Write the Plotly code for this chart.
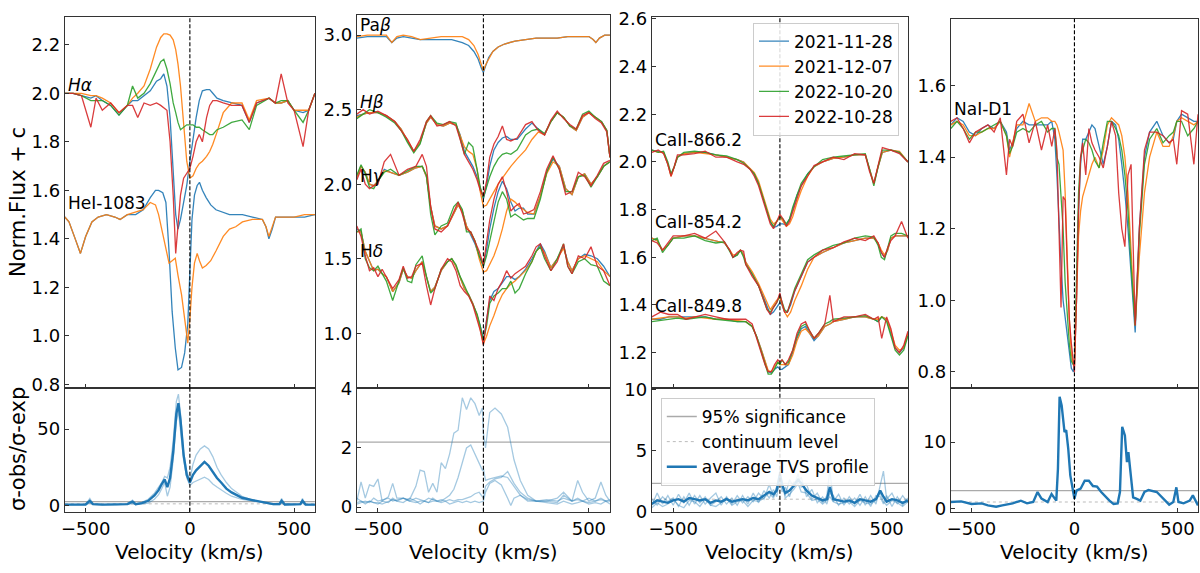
import plotly.graph_objects as go

# ---------------- data ----------------
DATES = ["2021-11-28", "2021-12-07", "2022-10-20", "2022-10-28"]
COLORS = ["#1f77b4", "#ff7f0e", "#2ca02c", "#d62728"]
X_TICKS = [-500, 0, 500]
X_LABELS = ["\u2212500", "0", "500"]

# H alpha
HA_V = [-600, -560, -520, -475, -450, -420, -380, -340, -300, -275, -250, -220, -190, -160, -140,
        -125, -110, -95, -80, -68, -57, -45, -30, -15, 0, 15, 30, 45, 60, 80, 95, 110, 130, 160, 200,
        250, 285, 320, 380, 410, 438, 470, 500, 543, 570, 600]
HA_BLUE = [2.0, 2.0, 1.99, 1.98, 1.99, 1.97, 1.95, 1.91, 1.95, 1.97, 1.97, 1.99, 2.01, 2.05, 2.06,
           2.08, 2.03, 1.9, 1.65, 1.5, 1.44, 1.48, 1.55, 1.62, 1.72, 1.82, 1.9, 1.97, 2.01, 2.015,
           2.015, 2.0, 1.98, 1.97, 1.96, 1.95, 1.88, 1.96, 1.98, 1.96, 1.96, 1.97, 1.93, 1.92, 1.93, 2.0]
HA_ORANGE = [2.0, 2.0, 2.0, 1.99, 1.99, 1.98, 1.96, 1.92, 1.95, 1.98, 2.0, 2.03, 2.1, 2.19, 2.23,
             2.245, 2.245, 2.24, 2.22, 2.18, 2.12, 2.03, 1.88, 1.72, 1.65, 1.66, 1.69, 1.71, 1.72, 1.74,
             1.76, 1.79, 1.84, 1.92, 1.96, 1.96, 1.89, 1.97, 1.98, 1.96, 1.96, 1.97, 1.93, 1.93, 1.93, 2.0]
HA_GREEN = [2.0, 2.0, 1.99, 1.97, 1.97, 1.97, 1.95, 1.91, 1.95, 2.03, 1.98, 2.0, 2.04, 2.09, 2.13,
            2.14, 2.1, 2.04, 1.96, 1.92, 1.88, 1.85, 1.86, 1.87, 1.87, 1.87, 1.86, 1.86, 1.85, 1.84,
            1.83, 1.83, 1.85, 1.86, 1.88, 1.89, 1.85, 1.95, 1.98, 1.96, 1.97, 1.97, 1.93, 1.88, 1.93, 2.0]
HA_RED = [2.0, 2.0, 1.99, 1.86, 1.98, 1.93, 1.96, 1.92, 1.95, 1.95, 1.9, 1.96, 1.95, 1.96, 1.95,
          1.94, 1.93, 1.8, 1.58, 1.34, 1.45, 1.58, 1.65, 1.67, 1.69, 1.74, 1.8, 1.83, 1.8, 1.9,
          1.95, 1.97, 1.97, 1.96, 1.95, 1.95, 1.88, 1.96, 1.98, 1.96, 2.08, 1.96, 1.93, 1.78, 1.93, 2.0]

# HeI 1083
HE_V = [-600, -580, -550, -525, -500, -470, -440, -400, -360, -335, -300, -260, -224, -190, -165,
        -150, -130, -115, -100, -85, -70, -57, -40, -25, -10, 0, 10, 22, 35, 46, 60, 78, 100, 125, 160,
        190, 220, 252, 300, 348, 365, 379, 395, 411, 450, 500, 550, 600]
HE_BLUE = [1.49, 1.47, 1.40, 1.34, 1.41, 1.47, 1.49, 1.5, 1.49, 1.48, 1.5, 1.5, 1.52, 1.57, 1.6,
           1.6, 1.59, 1.55, 1.35, 1.1, 0.95, 0.86, 0.87, 0.93, 1.05, 1.28, 1.48, 1.58, 1.62, 1.633,
           1.6, 1.57, 1.54, 1.52, 1.51, 1.5, 1.5, 1.5, 1.49, 1.48, 1.45, 1.40, 1.44, 1.49, 1.49,
           1.49, 1.49, 1.5]
HE_ORANGE = [1.49, 1.47, 1.40, 1.34, 1.41, 1.47, 1.49, 1.5, 1.49, 1.48, 1.5, 1.51, 1.52, 1.55, 1.54,
             1.5, 1.42, 1.35, 1.30, 1.31, 1.32, 1.25, 1.17, 1.07, 0.97, 1.07, 1.2, 1.3, 1.34, 1.31,
             1.28, 1.29, 1.31, 1.35, 1.41, 1.44, 1.45, 1.47, 1.48, 1.48, 1.45, 1.41, 1.45, 1.49, 1.49,
             1.49, 1.5, 1.5]

# Pa beta
PB_V = [-600, -550, -500, -460, -434, -410, -380, -340, -300, -250, -200, -150, -100, -70, -45,
        -25, -10, 0, 10, 25, 45, 70, 100, 150, 200, 250, 300, 350, 400, 450, 500, 520, 533, 550, 575, 600]
PB_BLUE = [2.98, 2.99, 2.99, 2.99, 2.95, 2.98, 2.99, 2.98, 2.97, 2.97, 2.97, 2.97, 2.95, 2.93, 2.89,
           2.84, 2.78, 2.75, 2.79, 2.85, 2.89, 2.92, 2.94, 2.96, 2.97, 2.98, 2.98, 2.98, 2.99, 2.99,
           2.99, 2.97, 2.95, 2.98, 3.0, 3.0]
PB_ORANGE = [2.99, 3.0, 3.0, 3.0, 2.95, 2.99, 3.0, 2.99, 2.97, 2.98, 2.99, 2.99, 2.99, 2.97, 2.93,
             2.87, 2.8, 2.76, 2.8, 2.84, 2.89, 2.92, 2.94, 2.96, 2.97, 2.98, 2.98, 2.98, 2.99, 2.99,
             2.99, 2.97, 2.95, 2.98, 3.0, 3.0]

# H beta
HB_V = [-600, -570, -540, -500, -460, -420, -390, -360, -330, -300, -270, -250, -220, -190, -160,
        -130, -110, -90, -70, -50, -30, -15, 0, 15, 30, 50, 70, 90, 110, 130, 160, 200, 230, 260, 290,
        320, 350, 380, 410, 440, 470, 500, 530, 560, 585, 600]
HB_BLUE = [2.46, 2.47, 2.48, 2.48, 2.46, 2.42, 2.37, 2.29, 2.22, 2.28, 2.41, 2.45, 2.4, 2.39, 2.41,
           2.4, 2.33, 2.22, 2.17, 2.12, 2.05, 1.97, 1.9, 1.99, 2.12, 2.23, 2.28, 2.31, 2.32, 2.3,
           2.3, 2.37, 2.41, 2.37, 2.33, 2.42, 2.48, 2.45, 2.39, 2.36, 2.45, 2.48, 2.45, 2.42, 2.36, 2.18]
HB_ORANGE = [2.45, 2.47, 2.48, 2.48, 2.46, 2.42, 2.37, 2.29, 2.22, 2.28, 2.41, 2.45, 2.4, 2.39, 2.41,
             2.4, 2.33, 2.25, 2.22, 2.2, 2.1, 1.95, 1.85, 1.86, 1.9, 1.95, 2.0, 2.04, 2.08, 2.12,
             2.17, 2.23, 2.3, 2.35, 2.33, 2.42, 2.48, 2.45, 2.39, 2.36, 2.45, 2.48, 2.45, 2.42, 2.36, 2.18]
HB_GREEN = [2.44, 2.47, 2.5, 2.48, 2.45, 2.41, 2.36, 2.28, 2.21, 2.27, 2.42, 2.46, 2.41, 2.4, 2.42,
            2.41, 2.3, 2.2, 2.28, 2.25, 2.1, 1.98, 1.91, 1.98, 2.05, 2.12, 2.17, 2.2, 2.21, 2.2,
            2.23, 2.33, 2.36, 2.37, 2.34, 2.42, 2.48, 2.45, 2.39, 2.37, 2.47, 2.49, 2.45, 2.42, 2.36, 2.18]
HB_RED = [2.47, 2.5, 2.47, 2.49, 2.46, 2.42, 2.36, 2.3, 2.22, 2.3, 2.42, 2.46, 2.39, 2.4, 2.42,
          2.39, 2.3, 2.2, 2.15, 2.1, 2.03, 1.96, 1.92, 2.02, 2.18, 2.27, 2.32, 2.39, 2.3, 2.29,
          2.31, 2.4, 2.42, 2.36, 2.33, 2.43, 2.49, 2.44, 2.4, 2.37, 2.46, 2.48, 2.44, 2.41, 2.35, 2.18]

# H gamma
HG_V = [-600, -580, -560, -540, -520, -500, -470, -440, -400, -360, -320, -290, -270, -250, -230,
        -200, -170, -140, -120, -100, -80, -60, -40, -20, 0, 15, 30, 50, 70, 90, 110, 130, 150, 170,
        190, 210, 240, 270, 300, 330, 360, 390, 420, 450, 480, 510, 540, 570, 600]
HG_BLUE = [2.05, 2.12, 2.08, 2.0, 1.99, 2.02, 2.1, 2.08, 2.06, 2.08, 2.11, 2.12, 2.05, 1.85, 1.72,
           1.7, 1.72, 1.8, 1.86, 1.82, 1.72, 1.66, 1.6, 1.52, 1.45, 1.56, 1.7, 1.84, 1.95, 2.02,
           1.97, 1.88, 1.82, 1.84, 1.84, 1.8, 1.8, 1.92, 2.08, 2.17, 2.12, 1.97, 1.93, 2.05, 2.07,
           2.0, 2.05, 2.12, 2.15]
HG_ORANGE = [2.05, 2.12, 2.08, 2.0, 1.99, 2.02, 2.09, 2.08, 2.06, 2.08, 2.11, 2.12, 2.05, 1.85, 1.72,
             1.7, 1.72, 1.8, 1.86, 1.82, 1.72, 1.67, 1.62, 1.5, 1.41, 1.42, 1.46, 1.52, 1.6, 1.7,
             1.82, 1.9, 1.88, 1.85, 1.83, 1.81, 1.8, 1.92, 2.07, 2.15, 2.12, 1.97, 1.93, 2.05, 2.07,
             2.0, 2.05, 2.12, 2.15]
HG_GREEN = [2.06, 2.13, 2.07, 1.98, 1.97, 2.02, 2.08, 2.1, 2.06, 2.09, 2.12, 2.12, 2.06, 1.8, 1.66,
            1.72, 1.74, 1.85, 1.88, 1.83, 1.68, 1.68, 1.62, 1.52, 1.45, 1.52, 1.62, 1.75, 1.88, 1.95,
            1.9, 1.78, 1.8, 1.78, 1.76, 1.77, 1.77, 1.9, 2.08, 2.18, 2.1, 1.95, 1.95, 2.05, 2.06,
            1.98, 2.05, 2.12, 2.15]
HG_RED = [2.03, 2.1, 2.0, 1.97, 1.99, 2.0, 2.15, 2.2, 2.06, 2.1, 2.12, 2.2, 2.12, 1.85, 1.7,
          1.68, 1.72, 1.82, 1.88, 1.8, 1.7, 1.68, 1.62, 1.55, 1.46, 1.6, 1.76, 1.9, 2.0, 2.05,
          1.95, 1.82, 1.85, 1.87, 1.8, 1.81, 1.83, 1.95, 2.1, 2.19, 2.1, 1.93, 1.95, 2.08, 2.05,
          1.99, 2.06, 2.14, 2.16]

# H delta
HD_V = [-600, -580, -560, -540, -520, -500, -480, -460, -430, -400, -380, -360, -340, -320, -290,
        -270, -250, -230, -200, -170, -150, -130, -110, -90, -70, -50, -30, -15, 0, 15, 30, 50, 70,
        90, 110, 130, 150, 170, 200, 230, 250, 270, 290, 320, 350, 380, 400, 420, 450, 480, 510,
        540, 570, 600]
HD_BLUE = [1.70, 1.68, 1.55, 1.48, 1.42, 1.43, 1.40, 1.38, 1.28, 1.34, 1.43, 1.38, 1.37, 1.42, 1.48,
           1.38, 1.28, 1.31, 1.42, 1.48, 1.5, 1.45, 1.37, 1.3, 1.26, 1.2, 1.12, 1.05, 0.96, 1.1,
           1.22, 1.28, 1.3, 1.34, 1.38, 1.38, 1.36, 1.38, 1.43, 1.5, 1.55, 1.6, 1.55, 1.44, 1.5,
           1.58, 1.48, 1.42, 1.5, 1.53, 1.52, 1.5, 1.45, 1.38]
HD_ORANGE = [1.68, 1.68, 1.55, 1.48, 1.42, 1.43, 1.40, 1.38, 1.28, 1.34, 1.43, 1.38, 1.37, 1.42, 1.48,
             1.38, 1.28, 1.31, 1.42, 1.48, 1.5, 1.45, 1.37, 1.3, 1.26, 1.2, 1.12, 1.03, 0.93, 0.98,
             1.05, 1.12, 1.2, 1.26, 1.3, 1.33, 1.35, 1.38, 1.42, 1.48, 1.55, 1.58, 1.54, 1.44, 1.5,
             1.57, 1.48, 1.42, 1.5, 1.52, 1.5, 1.48, 1.42, 1.38]
HD_GREEN = [1.68, 1.7, 1.5, 1.44, 1.42, 1.45, 1.4, 1.35, 1.22, 1.36, 1.44, 1.35, 1.34, 1.46, 1.52,
            1.38, 1.27, 1.3, 1.43, 1.48, 1.5, 1.46, 1.38, 1.32, 1.26, 1.2, 1.13, 1.05, 0.95, 1.05,
            1.2, 1.25, 1.27, 1.3, 1.3, 1.35, 1.27, 1.3, 1.4, 1.48, 1.55, 1.58, 1.5, 1.42, 1.5,
            1.6, 1.45, 1.4, 1.48, 1.5, 1.46, 1.45, 1.35, 1.32]
HD_RED = [1.72, 1.65, 1.52, 1.42, 1.44, 1.38, 1.43, 1.38, 1.3, 1.36, 1.45, 1.37, 1.38, 1.45, 1.47,
          1.32, 1.19, 1.3, 1.43, 1.5, 1.48, 1.42, 1.32, 1.28, 1.25, 1.19, 1.1, 1.02, 0.92, 1.1,
          1.25, 1.22, 1.3, 1.35, 1.42, 1.37, 1.4, 1.42, 1.45, 1.52, 1.58, 1.6, 1.52, 1.42, 1.48,
          1.6, 1.45, 1.4, 1.52, 1.5, 1.58, 1.45, 1.42, 1.32]

# CaII 866.2
CA1_V = [-600, -570, -545, -525, -510, -495, -480, -450, -400, -350, -300, -250, -200, -170, -140,
         -120, -100, -80, -60, -45, -30, -15, 0, 15, 30, 45, 60, 80, 100, 130, 160, 200, 250, 300,
         350, 400, 420, 440, 460, 480, 520, 560, 600]
CA1_BLUE = [2.05, 2.045, 2.04, 1.99, 1.945, 1.98, 2.02, 2.035, 2.04, 2.04, 2.03, 2.02, 2.01, 2.0, 1.97,
            1.95, 1.91, 1.85, 1.79, 1.75, 1.725, 1.73, 1.74, 1.74, 1.735, 1.76, 1.8, 1.86, 1.9, 1.95,
            1.98, 2.0, 2.015, 2.02, 2.03, 2.03, 1.97, 1.91, 1.98, 2.04, 2.05, 2.04, 2.0]
CA1_ORANGE = [2.05, 2.04, 2.04, 1.99, 1.94, 1.98, 2.02, 2.035, 2.04, 2.035, 2.03, 2.02, 2.01, 2.0, 1.975,
              1.955, 1.92, 1.86, 1.8, 1.76, 1.74, 1.75, 1.77, 1.75, 1.73, 1.74, 1.77, 1.83, 1.88, 1.94,
              1.98, 2.0, 2.015, 2.02, 2.03, 2.03, 1.97, 1.91, 1.98, 2.04, 2.05, 2.045, 2.0]
CA1_GREEN = [2.05, 2.04, 2.045, 2.0, 1.95, 1.98, 2.02, 2.04, 2.045, 2.04, 2.03, 2.025, 2.01, 1.995, 1.97,
             1.95, 1.91, 1.85, 1.79, 1.75, 1.73, 1.75, 1.77, 1.76, 1.74, 1.76, 1.81, 1.86, 1.91, 1.95,
             1.98, 2.01, 2.02, 2.025, 2.03, 2.035, 1.97, 1.9, 1.98, 2.05, 2.05, 2.04, 2.0]
CA1_RED = [2.04, 2.05, 2.035, 1.99, 1.94, 1.98, 2.03, 2.03, 2.035, 2.045, 2.02, 2.02, 2.0, 1.99, 1.97,
           1.94, 1.9, 1.84, 1.78, 1.74, 1.72, 1.75, 1.78, 1.76, 1.73, 1.75, 1.79, 1.85, 1.9, 1.94,
           1.985, 2.0, 2.02, 2.01, 2.035, 2.03, 1.96, 1.91, 1.99, 2.06, 2.05, 2.035, 2.0]

# CaII 854.2
CA2_V = [-600, -575, -550, -525, -500, -450, -400, -350, -300, -260, -235, -220, -200, -185, -170,
         -160, -130, -100, -80, -60, -45, -30, -15, 0, 10, 22, 35, 50, 70, 100, 130, 160, 200, 250,
         300, 350, 400, 440, 460, 475, 490, 505, 520, 540, 570, 600]
CA2_BLUE = [1.68, 1.67, 1.63, 1.65, 1.68, 1.69, 1.69, 1.68, 1.67, 1.66, 1.63, 1.60, 1.61, 1.63, 1.61,
            1.58, 1.53, 1.48, 1.44, 1.39, 1.36, 1.37, 1.39, 1.41, 1.40, 1.37, 1.37, 1.4, 1.46, 1.52,
            1.58, 1.6, 1.62, 1.64, 1.66, 1.67, 1.68, 1.68, 1.66, 1.62, 1.6, 1.63, 1.68, 1.69, 1.69, 1.69]
CA2_ORANGE = [1.68, 1.67, 1.63, 1.65, 1.68, 1.69, 1.69, 1.68, 1.67, 1.66, 1.63, 1.61, 1.61, 1.63, 1.61,
              1.58, 1.54, 1.49, 1.45, 1.41, 1.38, 1.40, 1.42, 1.43, 1.40, 1.37, 1.35, 1.37, 1.42, 1.48,
              1.55, 1.6, 1.62, 1.64, 1.66, 1.67, 1.68, 1.68, 1.66, 1.63, 1.61, 1.63, 1.68, 1.69, 1.69, 1.69]
CA2_GREEN = [1.67, 1.68, 1.62, 1.65, 1.68, 1.68, 1.69, 1.67, 1.66, 1.665, 1.62, 1.60, 1.61, 1.63, 1.60,
             1.57, 1.53, 1.48, 1.43, 1.38, 1.37, 1.39, 1.41, 1.44, 1.41, 1.38, 1.37, 1.41, 1.47, 1.53,
             1.59, 1.61, 1.63, 1.65, 1.66, 1.68, 1.69, 1.685, 1.65, 1.6, 1.59, 1.64, 1.69, 1.7, 1.7, 1.69]
CA2_RED = [1.67, 1.66, 1.63, 1.66, 1.69, 1.69, 1.7, 1.68, 1.71, 1.665, 1.63, 1.60, 1.62, 1.63, 1.625,
           1.57, 1.52, 1.48, 1.43, 1.38, 1.36, 1.39, 1.41, 1.45, 1.41, 1.37, 1.37, 1.41, 1.46, 1.52,
           1.58, 1.6, 1.63, 1.64, 1.665, 1.68, 1.67, 1.69, 1.66, 1.62, 1.6, 1.64, 1.67, 1.69, 1.75, 1.68]

# CaII 849.8
CA3_V = [-600, -560, -520, -480, -440, -400, -350, -300, -250, -200, -160, -130, -110, -90, -70,
         -55, -40, -25, -10, 0, 10, 25, 40, 60, 80, 100, 120, 140, 160, 180, 210, 234, 250, 300, 350,
         400, 440, 460, 477, 500, 520, 540, 560, 580, 600]
CA3_BLUE = [1.34, 1.34, 1.35, 1.35, 1.35, 1.35, 1.35, 1.34, 1.34, 1.33, 1.33, 1.31, 1.27, 1.22, 1.16,
            1.12, 1.115, 1.13, 1.14, 1.13, 1.13, 1.14, 1.15, 1.2, 1.26, 1.3, 1.31, 1.28, 1.25, 1.27,
            1.31, 1.32, 1.33, 1.34, 1.35, 1.35, 1.34, 1.33, 1.35, 1.34, 1.28, 1.22, 1.2, 1.22, 1.28]
CA3_ORANGE = [1.34, 1.345, 1.35, 1.35, 1.345, 1.35, 1.345, 1.34, 1.34, 1.335, 1.33, 1.31, 1.27, 1.22, 1.16,
              1.125, 1.12, 1.14, 1.16, 1.15, 1.15, 1.15, 1.15, 1.19, 1.25, 1.29, 1.3, 1.28, 1.26, 1.27,
              1.31, 1.32, 1.33, 1.34, 1.35, 1.35, 1.34, 1.34, 1.35, 1.34, 1.29, 1.23, 1.21, 1.22, 1.28]
CA3_GREEN = [1.33, 1.335, 1.34, 1.345, 1.34, 1.345, 1.35, 1.34, 1.335, 1.33, 1.33, 1.31, 1.27, 1.21, 1.15,
             1.11, 1.11, 1.13, 1.16, 1.15, 1.17, 1.15, 1.16, 1.21, 1.27, 1.31, 1.32, 1.29, 1.26, 1.28,
             1.32, 1.33, 1.34, 1.345, 1.35, 1.355, 1.34, 1.33, 1.35, 1.33, 1.27, 1.21, 1.19, 1.21, 1.27]
CA3_RED = [1.35, 1.37, 1.36, 1.36, 1.34, 1.35, 1.36, 1.35, 1.34, 1.34, 1.34, 1.32, 1.26, 1.21, 1.15,
           1.12, 1.12, 1.15, 1.17, 1.16, 1.17, 1.15, 1.17, 1.21, 1.28, 1.32, 1.33, 1.29, 1.26, 1.28,
           1.32, 1.44, 1.33, 1.35, 1.35, 1.36, 1.34, 1.35, 1.26, 1.35, 1.3, 1.22, 1.2, 1.23, 1.29]

# NaI D1
NA_V = [-600, -570, -540, -510, -480, -450, -420, -390, -360, -330, -315, -300, -280, -250, -220,
        -190, -160, -130, -110, -95, -85, -75, -65, -55, -45, -35, -25, -15, -5, 0, 10, 20, 30, 40,
        55, 70, 85, 100, 120, 140, 160, 180, 200, 215, 230, 245, 260, 275, 295, 315, 340, 365, 400,
        430, 460, 480, 497, 520, 550, 580, 600]
NA_BLUE = [1.49, 1.51, 1.5, 1.47, 1.46, 1.48, 1.49, 1.48, 1.5, 1.47, 1.42, 1.44, 1.48, 1.5, 1.49,
           1.49, 1.49, 1.49, 1.5, 1.45, 1.35, 1.2, 1.1, 1.0, 0.95, 0.9, 0.85, 0.81, 0.8, 0.82,
           1.0, 1.25, 1.38, 1.45, 1.45, 1.47, 1.49, 1.48, 1.43, 1.38, 1.43, 1.5, 1.49, 1.45, 1.38,
           1.3, 1.2, 1.08, 0.91, 1.2, 1.4, 1.47, 1.5, 1.46, 1.44, 1.45, 1.5, 1.52, 1.51, 1.5, 1.5]
NA_ORANGE = [1.49, 1.5, 1.49, 1.46, 1.46, 1.47, 1.48, 1.48, 1.5, 1.46, 1.4, 1.44, 1.49, 1.49, 1.55,
             1.5, 1.51, 1.51, 1.5, 1.5, 1.49, 1.47, 1.44, 1.42, 1.3, 1.1, 0.95, 0.85, 0.82, 0.82,
             1.0, 1.18, 1.25, 1.29, 1.32, 1.35, 1.38, 1.4, 1.37, 1.42, 1.49, 1.51, 1.5, 1.49, 1.46,
             1.4, 1.3, 1.15, 0.93, 1.12, 1.3, 1.4, 1.47, 1.43, 1.43, 1.46, 1.5, 1.51, 1.5, 1.49, 1.5]
NA_GREEN = [1.48, 1.5, 1.48, 1.45, 1.47, 1.47, 1.48, 1.49, 1.5, 1.46, 1.41, 1.43, 1.47, 1.48, 1.47,
            1.49, 1.5, 1.47, 1.48, 1.48, 1.4, 1.38, 1.3, 1.2, 1.05, 0.95, 0.88, 0.83, 0.82, 0.83,
            1.05, 1.3, 1.4, 1.42, 1.45, 1.44, 1.42, 1.39, 1.37, 1.44, 1.5, 1.5, 1.48, 1.46, 1.42,
            1.35, 1.25, 1.1, 0.93, 1.18, 1.38, 1.45, 1.48, 1.44, 1.46, 1.47, 1.5, 1.5, 1.46, 1.48, 1.5]
NA_RED = [1.5, 1.51, 1.48, 1.44, 1.47, 1.48, 1.49, 1.47, 1.51, 1.35, 1.45, 1.43, 1.5, 1.52, 1.44,
          1.5, 1.42, 1.49, 1.43, 1.48, 1.42, 1.2, 0.98, 1.29, 1.28, 1.1, 0.95, 0.88, 0.82, 0.8,
          1.0, 1.25, 1.4, 1.44, 1.35, 1.48, 1.44, 1.42, 1.4, 1.37, 1.43, 1.5, 1.46, 1.3, 1.2,
          1.15, 1.35, 1.38, 0.93, 1.2, 1.42, 1.47, 1.47, 1.46, 1.44, 1.45, 1.38, 1.53, 1.52, 1.38, 1.52]

# TVS, column 1 (Halpha, HeI and average)
TV1_V = [-600, -540, -500, -480, -465, -420, -350, -300, -275, -260, -230, -200, -170, -150, -135,
         -121, -108, -95, -80, -65, -55, -45, -30, -15, 0, 15, 30, 50, 70, 90, 110, 130, 150, 175,
         200, 250, 300, 350, 400, 430, 440, 455, 500, 530, 540, 555, 600]
TV1_AVG = [0.5, 0.6, 0.6, 3.0, 0.8, 0.5, 0.4, 0.8, 2.5, 0.8, 1.5, 3.0, 6.5, 10, 14,
           17, 12, 18, 35, 60, 67, 56, 33, 20, 15, 20, 23, 26, 28.5, 26, 22, 18, 15, 11,
           8.5, 5, 3.5, 2, 0.8, 0.8, 3, 0.6, 0.5, 0.8, 3, 0.5, 0.5]
TV1_A = [0.6, 0.7, 0.7, 4.5, 1.0, 0.6, 0.5, 1.0, 3.5, 1.0, 2.0, 4.0, 8, 12, 15,
         19, 18, 25, 42, 68, 73, 60, 35, 22, 17, 27, 33, 37, 39, 37, 32, 25, 20, 15,
         11, 6, 3.5, 2, 1, 1.5, 4.5, 1, 0.5, 1, 4.5, 0.6, 0.5]
TV1_B = [0.4, 0.5, 0.5, 1.5, 0.6, 0.4, 0.3, 0.6, 1.2, 0.6, 1.0, 1.5, 4, 7, 11,
         15, 6, 12, 30, 55, 62, 50, 30, 18, 13, 15, 16, 17, 18.5, 17, 14, 12, 10, 8,
         6, 4, 3, 1.5, 0.5, 0.5, 1.5, 0.3, 0.4, 0.5, 1.5, 0.4, 0.4]

# TVS, column 2 (four Balmer / Paschen lines)
TV2_V = [-600, -580, -560, -540, -520, -500, -480, -450, -430, -410, -380, -350, -320, -300, -280,
         -260, -240, -220, -200, -180, -160, -140, -120, -100, -80, -60, -40, -20, -5, 0, 10, 30,
         55, 85, 115, 130, 145, 175, 210, 250, 300, 350, 380, 420, 447, 470, 500, 530, 557, 580, 600]
TV2_A = [0.2, 0.85, 0.3, 0.75, 0.7, 0.95, 0.2, 0.35, 0.8, 0.3, 0.3, 0.25, 0.7, 1.25, 1.2,
         0.5, 0.8, 0.5, 1.5, 1.3, 1.8, 2.5, 2.6, 3.7, 3.3, 3.7, 3.5, 3.1, 3.35, 2.5, 2.0, 3.2,
         3.35, 3.15, 2.7, 2.2, 1.6, 0.9, 0.4, 0.2, 0.2, 0.3, 0.5, 0.2, 0.9, 0.5, 0.2, 0.3, 0.85, 0.4, 0.2]
TV2_B = [0.15, 0.2, 0.15, 0.2, 0.15, 0.15, 0.1, 0.2, 0.25, 0.2, 0.3, 0.2, 0.15, 0.2, 0.2,
         0.15, 0.2, 0.2, 0.2, 0.3, 0.4, 0.6, 1.0, 1.5, 2.0, 2.1, 1.8, 1.5, 1.25, 1.3, 0.9, 0.95,
         1.0, 1.05, 1.0, 0.85, 0.7, 0.4, 0.25, 0.2, 0.2, 0.15, 0.4, 0.2, 0.3, 0.2, 0.15, 0.2, 0.3, 0.2, 0.25]
TV2_C = [0.1, 0.15, 0.2, 0.15, 0.3, 0.2, 0.25, 0.3, 0.2, 0.25, 0.3, 0.2, 0.3, 0.25, 0.2,
         0.3, 0.25, 0.2, 0.25, 0.2, 0.25, 0.2, 0.25, 0.25, 0.3, 0.35, 0.45, 0.5, 0.35, 0.3, 0.7, 0.85,
         0.95, 1.0, 1.2, 1.0, 0.8, 0.5, 0.3, 0.2, 0.25, 0.2, 0.3, 0.2, 0.25, 0.2, 0.3, 0.2, 0.25, 0.2, 0.2]
TV2_D = [0.3, 0.2, 0.1, 0.2, 0.15, 0.1, 0.2, 0.15, 0.3, 0.2, 0.15, 0.3, 0.2, 0.1, 0.2,
         0.15, 0.3, 0.2, 0.15, 0.2, 0.1, 0.15, 0.2, 0.15, 0.2, 0.15, 0.2, 0.15, 0.2, 0.2, 0.5, 0.8,
         0.9, 0.75, 0.3, 0.05, 0.3, 0.4, 0.2, 0.2, 0.15, 0.1, 0.2, 0.1, 0.15, 0.2, 0.1, 0.15, 0.1, 0.2, 0.1]

# TVS, column 3 (CaII triplet and average)
TV3_V = [-600, -575, -550, -525, -500, -475, -450, -425, -400, -375, -350, -325, -300, -275, -250,
         -225, -200, -175, -150, -125, -100, -75, -50, -30, -15, 0, 10, 25, 45, 65, 85, 100, 125,
         150, 175, 200, 220, 234, 250, 275, 300, 325, 350, 375, 400, 425, 450, 470, 485, 500, 525,
         550, 575, 600]
TV3_AVG = [0.6, 0.9, 0.8, 0.7, 0.9, 1.0, 0.8, 1.1, 1.0, 0.9, 1.0, 0.7, 0.9, 0.8, 1.0,
           0.8, 0.9, 1.0, 0.9, 1.1, 1.0, 1.3, 1.6, 1.4, 1.7, 3.0, 2.2, 1.5, 1.7, 2.1, 2.6, 2.3, 1.7,
           1.3, 1.1, 0.9, 1.0, 2.0, 1.0, 0.9, 0.8, 0.9, 0.7, 1.0, 0.9, 0.8, 1.0, 1.7, 1.2, 0.8, 1.0,
           0.9, 0.7, 0.9]
TV3_A = [0.5, 1.5, 0.6, 1.3, 0.5, 1.4, 0.7, 1.5, 0.6, 1.3, 0.6, 1.1, 1.5, 0.5, 1.2,
         0.6, 1.3, 0.7, 1.2, 0.8, 1.5, 1.0, 2.2, 1.2, 2.0, 3.4, 2.5, 1.3, 2.6, 2.0, 3.1, 2.0, 2.2,
         1.0, 1.5, 0.7, 1.3, 3.4, 0.8, 1.4, 0.5, 1.2, 0.6, 1.4, 0.5, 1.3, 0.6, 2.0, 3.3, 1.0, 1.5,
         0.6, 1.3, 0.7]
TV3_B = [1.0, 0.5, 1.2, 0.8, 1.1, 0.4, 1.2, 0.5, 1.3, 0.7, 1.2, 0.5, 0.8, 1.2, 0.6,
         1.1, 0.5, 1.3, 0.6, 1.5, 0.7, 1.7, 1.1, 1.8, 1.2, 2.8, 1.6, 2.0, 1.2, 2.4, 2.4, 2.8, 1.2,
         1.8, 0.7, 1.2, 0.6, 1.5, 1.3, 0.5, 1.1, 0.6, 1.1, 0.5, 1.2, 0.4, 1.3, 1.2, 0.6, 1.3, 0.4,
         1.2, 0.5, 1.1]
TV3_C = [0.3, 0.7, 0.4, 0.6, 1.0, 0.5, 0.3, 0.9, 0.8, 0.4, 1.0, 0.5, 0.4, 0.7, 1.1,
         0.5, 0.8, 0.9, 0.4, 0.9, 0.8, 1.1, 1.5, 1.1, 2.0, 2.7, 2.3, 1.1, 1.4, 1.8, 2.3, 1.6, 1.5,
         0.9, 1.0, 0.6, 0.9, 1.2, 0.8, 0.6, 0.7, 0.8, 0.4, 0.9, 0.7, 0.6, 0.9, 1.5, 0.8, 0.5, 0.9,
         0.7, 0.4, 0.8]

# TVS, column 4 (NaI D1)
TV4_V = [-600, -550, -500, -450, -420, -380, -350, -300, -260, -230, -200, -179, -160, -130, -111,
         -95, -88, -80, -72, -62, -55, -48, -40, -30, -20, -10, 0, 10, 30, 50, 70, 90, 110, 130, 150,
         170, 190, 210, 221, 232, 245, 255, 262, 275, 285, 300, 320, 340, 360, 400, 430, 460, 480,
         495, 505, 530, 560, 575, 600]
TV4 = [1.0, 1.1, 0.7, 0.8, 0.5, 0.3, 0.5, 0.8, 1.2, 0.8, 1.0, 2.5, 1.5, 1.0, 2.2,
       1.5, 1.2, 6.0, 16.8, 15.5, 13.0, 11.5, 11.8, 9.0, 5.0, 3.0, 1.5, 2.7, 3.0, 4.2, 4.2, 3.4, 3.3,
       2.5, 1.8, 1.2, 0.7, 0.8, 2.5, 12.3, 11.0, 7.0, 8.5, 5.0, 1.7, 1.5, 1.2, 2.5, 2.8, 2.5, 1.5,
       0.6, 1.0, 3.2, 1.0, 0.8, 1.2, 2.0, 0.5]

SIG95 = [2.5, 2.2, 2.3, 2.7]
CONTINUUM = 1.0

# ---------------- layout geometry (pixels of the 1200x573 page) ----------------
W, H = 1200, 573
COL_PX = [(61, 312), (354, 608), (650, 907), (950, 1198)]
TOP_PX = [7, 5, 7, 9]
SPLIT_PX, BOTTOM_PX = 392, 520
# two (value, pixel row) pairs per panel, to place the y ranges
TOP_CAL = [((2.2, 36.0), (0.8, 388.0)), ((3.0, 26.0), (1.0, 335.0)),
           ((2.6, 9.3), (1.2, 355.0)), ((1.6, 78.3), (0.8, 375.0))]
BOT_CAL = [((50, 434.3), (0, 513.3)), ((4, 392.6), (0, 515.0)),
           ((10, 393.3), (0, 519.5)), ((10, 447.7), (0, 516.7))]
TOP_TICKS = [[0.8, 1.0, 1.2, 1.4, 1.6, 1.8, 2.0, 2.2], [1.0, 1.5, 2.0, 2.5, 3.0],
             [1.2, 1.4, 1.6, 1.8, 2.0, 2.2, 2.4, 2.6], [0.8, 1.0, 1.2, 1.4, 1.6]]
BOT_TICKS = [[0, 50], [0, 2, 4], [0, 5, 10], [0, 10]]

AXC = "#333333"
FONT = "DejaVu Sans"
LIGHT = "rgba(31,119,180,0.4)"


def px_x(p):
    return p / W


def px_y(p):
    return (H - p) / H


def y_range(cal, top_px, bot_px):
    (v1, p1), (v2, p2) = cal
    k = (v1 - v2) / (p2 - p1)
    return [v2 - (bot_px - p2) * k, v1 + (p1 - top_px) * k]


fig = go.Figure()


def refs(i):
    return ("x" if i == 1 else f"x{i}"), ("y" if i == 1 else f"y{i}")


def add_spec(i, v, fluxes, legend=False):
    xa, ya = refs(i)
    for k, f in enumerate(fluxes):
        if f is None:
            continue
        fig.add_trace(go.Scatter(x=v, y=f, mode="lines", name=DATES[k],
                                 line=dict(color=COLORS[k], width=1.3), opacity=0.9,
                                 showlegend=legend, legend="legend",
                                 xaxis=xa, yaxis=ya, hoverinfo="skip"))


def add_tvs_refs(c, legend=False):
    xa, ya = refs(2 * c + 2)
    fig.add_trace(go.Scatter(x=[-600, 600], y=[SIG95[c]] * 2, mode="lines",
                             name="95% significance", line=dict(color="#aaaaaa", width=1.3),
                             showlegend=legend, legend="legend2", xaxis=xa, yaxis=ya,
                             hoverinfo="skip"))
    if c != 1:
        fig.add_trace(go.Scatter(x=[-600, 600], y=[CONTINUUM] * 2, mode="lines",
                                 name="continuum level",
                                 line=dict(color="#bbbbbb", width=1, dash="dot"),
                                 showlegend=legend, legend="legend2", xaxis=xa, yaxis=ya,
                                 hoverinfo="skip"))


def add_tvs(c, v, ys, avg=None, legend=False):
    xa, ya = refs(2 * c + 2)
    for y in ys:
        fig.add_trace(go.Scatter(x=v, y=y, mode="lines", line=dict(color=LIGHT, width=1.3),
                                 showlegend=False, xaxis=xa, yaxis=ya, hoverinfo="skip"))
    if avg is not None:
        fig.add_trace(go.Scatter(x=v, y=avg, mode="lines", name="average TVS profile",
                                 line=dict(color="#1f77b4", width=2.4),
                                 showlegend=legend, legend="legend2", xaxis=xa, yaxis=ya,
                                 hoverinfo="skip"))


# spectra
add_spec(1, HA_V, [HA_BLUE, HA_ORANGE, HA_GREEN, HA_RED], legend=True)
add_spec(1, HE_V, [HE_BLUE, HE_ORANGE, None, None])
add_spec(3, PB_V, [PB_BLUE, PB_ORANGE, None, None])
add_spec(3, HB_V, [HB_BLUE, HB_ORANGE, HB_GREEN, HB_RED])
add_spec(3, HG_V, [HG_BLUE, HG_ORANGE, HG_GREEN, HG_RED])
add_spec(3, HD_V, [HD_BLUE, HD_ORANGE, HD_GREEN, HD_RED])
add_spec(5, CA1_V, [CA1_BLUE, CA1_ORANGE, CA1_GREEN, CA1_RED])
add_spec(5, CA2_V, [CA2_BLUE, CA2_ORANGE, CA2_GREEN, CA2_RED])
add_spec(5, CA3_V, [CA3_BLUE, CA3_ORANGE, CA3_GREEN, CA3_RED])
add_spec(7, NA_V, [NA_BLUE, NA_ORANGE, NA_GREEN, NA_RED])

# TVS panels
add_tvs_refs(0)
add_tvs(0, TV1_V, [TV1_A, TV1_B], avg=TV1_AVG)
add_tvs_refs(1)
add_tvs(1, TV2_V, [TV2_A, TV2_B, TV2_C, TV2_D])
add_tvs_refs(2, legend=True)
add_tvs(2, TV3_V, [TV3_A, TV3_B, TV3_C], avg=TV3_AVG, legend=True)
add_tvs_refs(3)
add_tvs(3, TV4_V, [], avg=TV4)

layout = {}
shapes = []
annotations = []
for c in range(4):
    x0, x1 = COL_PX[c]
    dom_x = [px_x(x0), px_x(x1)]
    dom_top = [px_y(SPLIT_PX), px_y(TOP_PX[c])]
    dom_bot = [px_y(BOTTOM_PX), px_y(SPLIT_PX)]
    rng_top = y_range(TOP_CAL[c], TOP_PX[c], SPLIT_PX)
    rng_bot = y_range(BOT_CAL[c], SPLIT_PX, BOTTOM_PX)
    base = dict(ticks="inside", ticklen=4, tickwidth=1, tickcolor=AXC, showline=True,
                mirror=True, linecolor=AXC, linewidth=1.2, showgrid=False, zeroline=False,
                tickfont=dict(size=18, family=FONT, color="black"))
    for i, dom_y, rng, tv, lab in [(2 * c + 1, dom_top, rng_top, TOP_TICKS[c], False),
                                   (2 * c + 2, dom_bot, rng_bot, BOT_TICKS[c], True)]:
        xa, ya = refs(i)
        xkey = "xaxis" if i == 1 else f"xaxis{i}"
        ykey = "yaxis" if i == 1 else f"yaxis{i}"
        layout[xkey] = dict(base, domain=dom_x, anchor=ya, range=[-600, 600],
                            tickvals=X_TICKS, ticktext=X_LABELS, showticklabels=lab)
        ytext = [f"{t:.1f}" for t in tv] if not lab else [str(t) for t in tv]
        layout[ykey] = dict(base, domain=dom_y, anchor=xa, range=rng,
                            tickvals=tv, ticktext=ytext)
        shapes.append(dict(type="line", xref=xa, yref=f"{ya} domain", x0=0, x1=0, y0=0, y1=1,
                           line=dict(color="black", width=1.1, dash="4px,2px")))
    annotations.append(dict(text="Velocity (km/s)", xref="paper", yref="paper",
                            x=px_x((x0 + x1) / 2), y=px_y(562), showarrow=False,
                            xanchor="center", yanchor="middle",
                            font=dict(size=20, family=FONT, color="black")))

annotations.append(dict(text="Norm.Flux + c", xref="paper", yref="paper", x=px_x(14),
                        y=px_y(199), textangle=-90, showarrow=False,
                        xanchor="center", yanchor="middle",
                        font=dict(size=21, family=FONT, color="black")))
annotations.append(dict(text="\u03c3-obs/\u03c3-exp", xref="paper", yref="paper", x=px_x(14),
                        y=px_y(455), textangle=-90, showarrow=False,
                        xanchor="center", yanchor="middle",
                        font=dict(size=21, family=FONT, color="black")))

LINE_LABELS = [(1, "<i>H\u03b1</i>", 2.035), (1, "HeI-1083", 1.548),
               (3, "Pa<i>\u03b2</i>", 3.065), (3, "<i>H\u03b2</i>", 2.553),
               (3, "H<i>\u03b3</i>", 2.055), (3, "H<i>\u03b4</i>", 1.55),
               (5, "CaII-866.2", 2.091), (5, "CaII-854.2", 1.746), (5, "CaII-849.8", 1.394),
               (7, "NaI-D1", 1.535)]
for i, txt, yv in LINE_LABELS:
    xa, ya = refs(i)
    annotations.append(dict(text=txt, xref=xa, yref=ya, x=-600, y=yv, showarrow=False,
                            xanchor="left", yanchor="middle", xshift=1,
                            font=dict(size=17, family=FONT, color="black")))

fig.update_layout(
    width=W, height=H, margin=dict(l=0, r=0, t=0, b=0),
    paper_bgcolor="white", plot_bgcolor="white",
    font=dict(family=FONT, size=18, color="black"),
    shapes=shapes, annotations=annotations,
    legend=dict(x=px_x(898), y=px_y(13), xanchor="right", yanchor="top",
                bgcolor="rgba(255,255,255,0.85)", bordercolor="#cccccc", borderwidth=1,
                font=dict(size=17, family=FONT, color="black")),
    legend2=dict(x=px_x(659), y=px_y(402), xanchor="left", yanchor="top",
                 bgcolor="rgba(255,255,255,0.85)", bordercolor="#cccccc", borderwidth=1,
                 font=dict(size=17, family=FONT, color="black")),
    **layout,
)

# the page body has a default margin; drop it so the figure fills the window exactly
fig.write_html("out.html", config={"displayModeBar": False},
               post_script="document.body.style.margin='0px';")
